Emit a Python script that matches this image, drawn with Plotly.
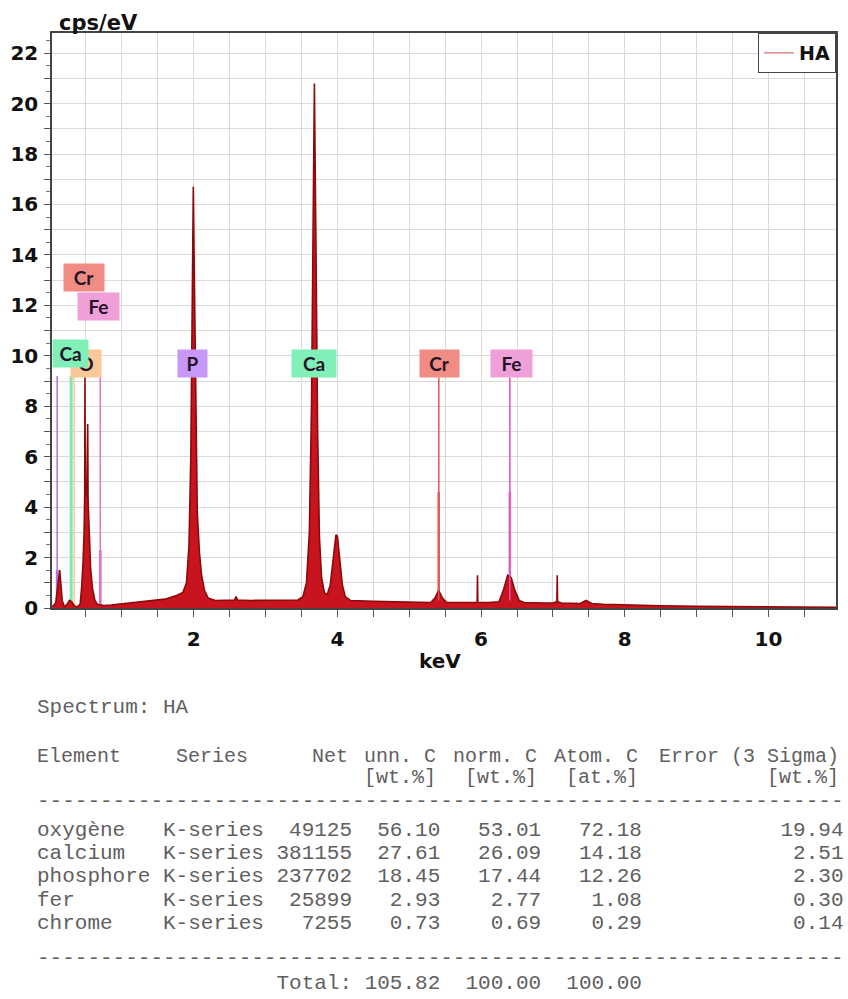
import plotly.graph_objects as go

# ---------------- spectrum ----------------
energy_kev = [0.03, 0.08, 0.11, 0.135, 0.15, 0.17, 0.20, 0.24, 0.27, 0.30, 0.34, 0.38,
              0.42, 0.44, 0.46, 0.475, 0.483, 0.487, 0.491, 0.51, 0.525, 0.53, 0.545,
              0.565, 0.59, 0.625, 0.66, 0.75, 0.85, 1.0, 1.2, 1.4, 1.6, 1.75, 1.85,
              1.9, 1.935, 1.96, 1.98, 1.995, 2.01, 2.03, 2.05, 2.08, 2.11, 2.15, 2.2,
              2.3, 2.5, 2.57, 2.59, 2.61, 2.8, 3.0, 3.3, 3.45, 3.52, 3.57, 3.61, 3.64,
              3.665, 3.68, 3.70, 3.725, 3.75, 3.78, 3.82, 3.86, 3.90, 3.94, 3.98, 4.0,
              4.03, 4.07, 4.11, 4.18, 4.5, 5.0, 5.3, 5.36, 5.41, 5.46, 5.52, 5.8,
              5.945, 5.95, 5.955, 6.1, 6.25, 6.31, 6.37, 6.42, 6.47, 6.53, 6.6, 6.9,
              7.0, 7.055, 7.06, 7.065, 7.12, 7.38, 7.46, 7.54, 7.7, 8.0, 8.5, 9.0,
              9.5, 10.0, 10.5, 10.94]
counts_cps_ev = [0.05, 0.2, 0.9, 1.5, 1.0, 0.3, 0.05, 0.15, 0.3, 0.25, 0.08, 0.05,
                 0.15, 0.8, 1.8, 3.0, 4.5, 9.3, 4.6, 4.4, 7.3, 4.3, 3.0,
                 1.6, 0.8, 0.3, 0.15, 0.1, 0.12, 0.16, 0.22, 0.28, 0.35, 0.48, 0.62,
                 1.0, 2.5, 6.0, 12.0, 16.7, 13.0, 7.0, 3.8, 2.2, 1.3, 0.7, 0.4,
                 0.3, 0.3, 0.32, 0.45, 0.32, 0.3, 0.3, 0.3, 0.32, 0.45, 1.0, 3.0, 8.0,
                 16.0, 20.8, 15.0, 7.0, 2.8, 1.2, 0.6, 0.55, 0.9, 1.9, 2.9, 2.85,
                 2.0, 0.9, 0.45, 0.3, 0.27, 0.24, 0.22, 0.4, 0.7, 0.4, 0.22, 0.22,
                 0.22, 1.3, 0.22, 0.22, 0.25, 0.7, 1.3, 1.2, 0.7, 0.3, 0.22, 0.2,
                 0.2, 0.25, 1.3, 0.25, 0.2, 0.18, 0.3, 0.18, 0.15, 0.12, 0.09, 0.07,
                 0.06, 0.05, 0.04, 0.03]

# ---------------- element marker lines ----------------
marker_energy = [0.10, 0.295, 0.335, 0.70, 2.01, 3.69, 4.01, 5.41, 6.40]
marker_top = [9.2, 9.2, 9.2, 9.2, 9.13, 9.13, 2.8, 9.13, 9.13]
marker_inner_top = [1.5, 0.0, 0.0, 2.3, 0.0, 0.0, 0.0, 4.6, 4.6]
marker_color = ['#b070e0', '#7ee8b0', '#f8c898', '#e070c8', '#b080f0',
                '#60d8a0', '#f0b070', '#e05a5a', '#e060c0']
marker_width = [1.5, 3, 1.5, 1.5, 1.5, 1.5, 1.2, 1.3, 1.3]

# ---------------- element labels ----------------
label_text = ['Cr', 'Fe', 'O', 'Ca', 'P', 'Ca', 'Cr', 'Fe']
label_x = [0.47, 0.67, 0.50, 0.29, 1.99, 3.68, 5.42, 6.42]
label_y = [13.1, 11.95, 9.7, 10.1, 9.68, 9.68, 9.68, 9.68]
label_w = [38, 39, 28, 33, 27, 42, 37, 39]
label_bg = ['#f08c84', '#f0a0d8', '#f8c898', '#80f0b8', '#c898f8',
            '#80f0b8', '#f08c84', '#f0a0d8']

# ---------------- axes ----------------
x_range = [0.028, 10.94]
y_range = [0, 22.8]
x_tick_vals = [i * 0.5 for i in range(0, 22)]
x_tick_text = [str(int(v)) if v in (2, 4, 6, 8, 10) else '' for v in x_tick_vals]
y_tick_vals = list(range(0, 23))
y_tick_text = [str(v) if v % 2 == 0 else '' for v in y_tick_vals]

# ---------------- quantification table ----------------
spectrum_name = 'HA'
header_top = ['Element', 'Series', 'Net', 'unn. C', 'norm. C', 'Atom. C', 'Error (3 Sigma)']
header_units = ['', '', '', '[wt.%]', '[wt.%]', '[at.%]', '[wt.%]']
elements = ['oxygène', 'calcium', 'phosphore', 'fer', 'chrome']
series = ['K-series'] * 5
net = [49125, 381155, 237702, 25899, 7255]
unn_c = ['56.10', '27.61', '18.45', '2.93', '0.73']
norm_c = ['53.01', '26.09', '17.44', '2.77', '0.69']
atom_c = ['72.18', '14.18', '12.26', '1.08', '0.29']
error_3s = ['19.94', '2.51', '2.30', '0.30', '0.14']
total_unn, total_norm, total_atom = '105.82', '100.00', '100.00'

# ---------------- layout geometry (pixels) ----------------
W, H = 848, 999
L, R, T, B = 52, 838, 33, 608


def px(xp):
    return (xp - L) / (R - L)


def py(yp):
    return (B - yp) / (B - T)


fig = go.Figure()

# marker lines
for e, top, inner, c, w in zip(marker_energy, marker_top, marker_inner_top, marker_color, marker_width):
    fig.add_trace(go.Scatter(x=[e, e], y=[0, top], mode='lines',
                             line=dict(color=c, width=w), showlegend=False, hoverinfo='skip'))
    if inner > 0:
        fig.add_trace(go.Scatter(x=[e, e], y=[0, inner], mode='lines',
                                 line=dict(color=c, width=w + 1.2), showlegend=False, hoverinfo='skip'))

# spectrum
fig.add_trace(go.Scatter(x=energy_kev, y=counts_cps_ev, mode='lines', fill='tozeroy',
                         fillcolor='#c8141e', line=dict(color='#8c0a0a', width=1.6),
                         showlegend=False, name='HA'))

# Cr/Fe marker lines drawn on top of the small peaks
for e, top, c in zip(marker_energy[7:], marker_top[7:], marker_color[7:]):
    fig.add_trace(go.Scatter(x=[e, e], y=[0.3, top], mode='lines',
                             line=dict(color=c, width=1.3), showlegend=False, hoverinfo='skip'))

# legend entry
fig.add_trace(go.Scatter(x=[None], y=[None], mode='lines', name='HA',
                         line=dict(color='#e08a8a', width=1.5), showlegend=True))

annotations = []
for t, x, y, w, bg in zip(label_text, label_x, label_y, label_w, label_bg):
    annotations.append(dict(x=x, y=y, xref='x', yref='y', text=t, showarrow=False,
                            bgcolor=bg, width=w, height=25, borderpad=1,
                            font=dict(family='Lato', size=19, color='#241428', weight='bold')))

# axis titles
annotations.append(dict(x=px(57), y=py(23), xref='paper', yref='paper', text='cps/eV',
                        showarrow=False, xanchor='left', yanchor='middle',
                        font=dict(family='DejaVu Sans', size=21, color='#111', weight='bold')))
annotations.append(dict(x=px(441), y=py(661), xref='paper', yref='paper', text='keV',
                        showarrow=False, xanchor='center', yanchor='middle',
                        font=dict(family='DejaVu Sans', size=20, color='#111', weight='bold')))

# table
NB = '\u00a0'
TFONT = 'Liberation Mono'
TCOL = '#606060'


def line(s):
    return s.replace(' ', NB)


def txt(xp, yp, s, anchor, fs=21):
    annotations.append(dict(x=px(xp), y=py(yp), xref='paper', yref='paper', text=line(s),
                            showarrow=False, xanchor=anchor, yanchor='middle',
                            font=dict(family=TFONT, size=fs, color=TCOL)))


# column pixel positions (left edge for text columns, right edge for numeric)
col_pos = [(35, 'left'), (174, 'left'), (351, 'right'), (439, 'right'),
           (540, 'right'), (641, 'right'), (843, 'right')]

txt(35, 708, f"Spectrum: {spectrum_name}", 'left')
for (xp, anc), s in zip(col_pos, header_top):
    txt(xp, 756, s, anc, 20)
for (xp, anc), s in zip(col_pos, header_units):
    if s:
        txt(xp, 777, s, anc, 20)
txt(35, 801, '-' * 64, 'left')
row_y = [830, 853, 877, 900, 923]
for yy, el, se, n, u, no, a, er in zip(row_y, elements, series, net, unn_c, norm_c, atom_c, error_3s):
    txt(35, yy, f"{el:<9} {se:<8} {n:>6} {u:>6} {no:>7} {a:>7} {er:>15}", 'left')
txt(35, 958, '-' * 64, 'left')
txt(35, 983, f"{'':<9} {'':<8} {'Total:':>6} {total_unn:>6} {total_norm:>7} {total_atom:>7}", 'left')

fig.update_layout(
    width=W, height=H,
    margin=dict(l=L, r=W - R, t=T, b=H - B, pad=0),
    paper_bgcolor='white', plot_bgcolor='white',
    showlegend=True,
    legend=dict(x=1, y=1, xanchor='right', yanchor='top', bgcolor='white',
                bordercolor='#444', borderwidth=1, itemwidth=30,
                font=dict(family='DejaVu Sans', size=19, color='#111', weight='bold'),
                tracegroupgap=0),
    xaxis=dict(range=x_range, tickmode='array', tickvals=x_tick_vals, ticktext=x_tick_text,
               showgrid=True, gridcolor='#dadada', gridwidth=1, zeroline=False,
               ticks='outside', ticklen=7, tickcolor='#555', tickwidth=1.2,
               showline=True, linecolor='#444', linewidth=1.5, mirror=True,
               ticklabelstandoff=5,
               tickfont=dict(family='DejaVu Sans', size=20, color='#111', weight='bold')),
    yaxis=dict(range=y_range, tickmode='array', tickvals=y_tick_vals, ticktext=y_tick_text,
               showgrid=True, gridcolor='#dadada', gridwidth=1, zeroline=False,
               ticks='outside', ticklen=6, tickcolor='#555', tickwidth=1.2,
               minor=dict(dtick=0.5, tick0=0, ticks='outside', ticklen=4, tickcolor='#777', showgrid=False),
               showline=True, linecolor='#444', linewidth=1.5, mirror=True,
               ticklabelstandoff=2,
               tickfont=dict(family='DejaVu Sans', size=20, color='#111', weight='bold')),
    annotations=annotations,
)

fig.write_html('out.html')
